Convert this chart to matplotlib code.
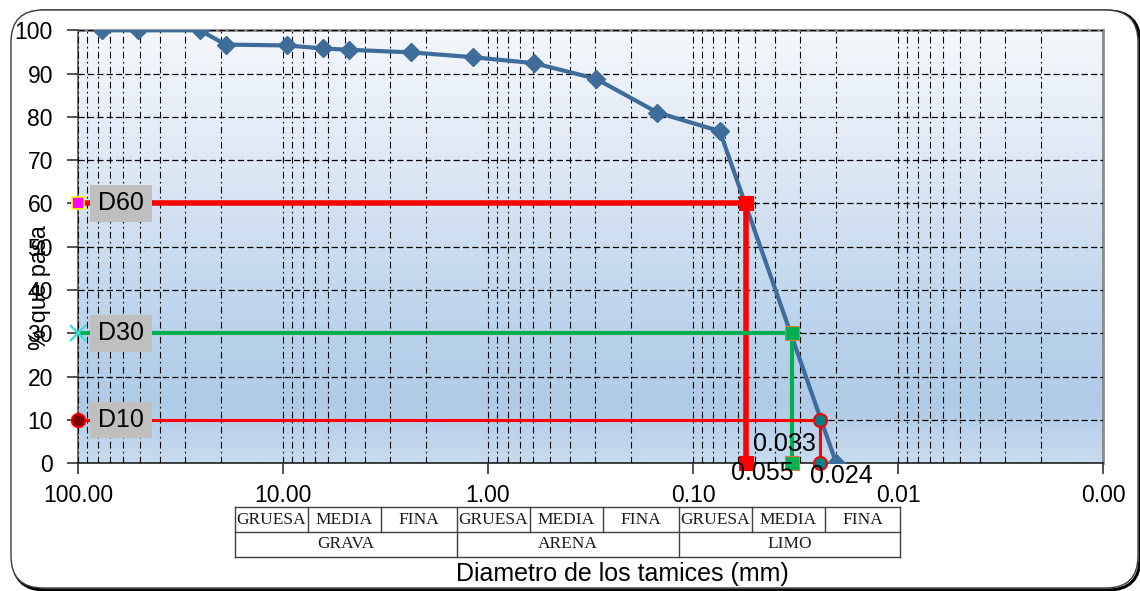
import matplotlib
matplotlib.use('Agg')
import matplotlib.pyplot as plt
import matplotlib.transforms as mtransforms
import numpy as np
from matplotlib.ticker import LogLocator, FuncFormatter, NullFormatter, MultipleLocator
from matplotlib.colors import LinearSegmentedColormap
from matplotlib.patches import FancyBboxPatch, Rectangle
from matplotlib.lines import Line2D

plt.rcParams['font.family'] = ['Liberation Sans', 'DejaVu Sans']

# curva granulometrica
sieve_mm = [76.2, 50.8, 25.4, 19.05, 9.525, 6.35, 4.76, 2.38, 1.19, 0.595, 0.297, 0.149, 0.074, 0.020]
pct_pass = [100, 100, 100, 96.7, 96.5, 95.8, 95.5, 94.9, 93.8, 92.4, 88.8, 81.0, 76.7, 0]

# diametros efectivos
d_names = ['D60', 'D30', 'D10']
d_pct = [60, 30, 10]
d_mm = [0.055, 0.033, 0.024]
d_text = ['0.055', '0.033', '0.024']

# clasificacion bajo el eje
grain_groups = ['GRAVA', 'ARENA', 'LIMO']
grain_sub = ['GRUESA', 'MEDIA', 'FINA']

W, H = 1140, 591
fig = plt.figure(figsize=(W / 100, H / 100), dpi=100)
inch = fig.dpi_scale_trans

# marco redondeado con sombra
shadow = FancyBboxPatch((13 / 100, (H - 590) / 100), 1127 / 100, 579 / 100,
                        boxstyle='round,pad=0,rounding_size=0.32', transform=inch,
                        fc='none', ec='black', lw=2.2, zorder=-3)
frame = FancyBboxPatch((11 / 100, (H - 588) / 100), 1127 / 100, 578 / 100,
                       boxstyle='round,pad=0,rounding_size=0.32', transform=inch,
                       fc='white', ec='#3a3a3a', lw=1.0, zorder=-2)
fig.add_artist(shadow)
fig.add_artist(frame)

ax = fig.add_axes([78 / W, 1 - 463.3 / H, 1025 / W, 433 / H])

# fondo degradado
stops = [(0.0, '#f5f8fc'), (0.35, '#dae6f4'), (0.65, '#bdd5ed'), (0.87, '#afcbe7'), (1.0, '#c8dcf0')]
cmap = LinearSegmentedColormap.from_list('fondo', stops)
grad = np.linspace(0, 1, 256).reshape(-1, 1)
ax.imshow(grad, cmap=cmap, aspect='auto', extent=[0, 1, 0, 1],
          transform=ax.transAxes, zorder=0, interpolation='bilinear')

ax.set_xscale('log')
ax.set_xlim(100, 0.001)
ax.set_ylim(0, 100)

ax.xaxis.set_major_locator(LogLocator(base=10, numticks=12))
ax.xaxis.set_minor_locator(LogLocator(base=10, subs=np.arange(2, 10), numticks=12))
ax.xaxis.set_major_formatter(FuncFormatter(lambda v, _: f'{v:.2f}'))
ax.xaxis.set_minor_formatter(NullFormatter())
ax.yaxis.set_major_locator(MultipleLocator(10))

ax.tick_params(axis='both', which='major', direction='out', length=8, width=1.2,
               labelsize=16.5, color='#333333')
ax.tick_params(axis='x', which='major', pad=7)
ax.tick_params(axis='y', which='major', pad=10)
ax.tick_params(axis='x', which='minor', length=0)

ax.grid(which='both', axis='x', color='black', lw=0.8, ls=(0, (6, 3, 1.5, 3)))
ax.grid(which='major', axis='y', color='black', lw=0.9, ls=(0, (5, 2.5)))
ax.set_axisbelow(False)
for gl in ax.get_xgridlines() + ax.get_ygridlines():
    gl.set_zorder(1)

for side in ['top', 'right']:
    ax.spines[side].set_color('#8c8c8c')
    ax.spines[side].set_linewidth(2)
ax.spines['left'].set_color('#555555')
ax.spines['left'].set_linewidth(1.2)
ax.spines['bottom'].set_color('#222222')
ax.spines['bottom'].set_linewidth(1.2)

ax.plot(sieve_mm, pct_pass, color='#3e6d9c', lw=3.0, marker='D', ms=9.5,
        mfc='#3e6d9c', mec='#3e6d9c', zorder=3)

# lineas D60, D30, D10
line_col = ['#ff0000', '#00b050', '#ff0000']
line_w = [4.0, 3.0, 2.2]
left_mk = [dict(marker='s', ms=9, mfc='#ff00ff', mec='#ffff00', mew=1.2),
           dict(marker='x', ms=11, mfc='none', mec='#33dddd', mew=1.6),
           dict(marker='o', ms=10, mfc='#800000', mec='#ff0000', mew=1.2)]
end_mk = [dict(marker='s', ms=10, mfc='#ff0000', mec='#ff0000', mew=0.8),
          dict(marker='s', ms=10, mfc='#00b050', mec='#e07b39', mew=0.8),
          dict(marker='o', ms=9.5, mfc='#008080', mec='#ff0000', mew=1.4)]
text_off = [(16, -10), (-7, 19), (21, -13)]

blend = mtransforms.blended_transform_factory(ax.transAxes, ax.transData)
for i in range(3):
    xd, yd = d_mm[i], d_pct[i]
    ax.plot([100, xd], [yd, yd], color=line_col[i], lw=line_w[i], zorder=4, solid_capstyle='butt')
    ax.plot([xd, xd], [yd, 0], color=line_col[i], lw=line_w[i], zorder=4, solid_capstyle='butt')
    ax.plot([100], [yd], ls='none', zorder=6, clip_on=False, **left_mk[i])
    ax.plot([xd, xd], [yd, 0], ls='none', zorder=6, clip_on=False, **end_mk[i])
    ax.add_patch(Rectangle((12 / 1025, yd - 4.25), 62 / 1025, 8.5, transform=blend,
                           fc='#bfbfbf', ec='none', zorder=5))
    ax.text(43 / 1025, yd, d_names[i], transform=blend, ha='center', va='center',
            fontsize=18, zorder=7)
    ax.annotate(d_text[i], xy=(xd, 0), xytext=text_off[i], textcoords='offset pixels',
                ha='center', va='center', fontsize=18, zorder=7, annotation_clip=False)

fig.text(40 / W, 1 - 288 / H, '% que pasa', rotation=90, ha='center', va='center', fontsize=17)
fig.text(622 / W, 1 - 574 / H, 'Diametro de los tamices (mm)', ha='center', va='center', fontsize=18)

# tabla de clasificacion
tx0, tx1 = 235, 900
ty0, ty1, ty2 = 507, 532, 557
group_edges = [235, 457, 679, 900]
sub_edges = [[235, 308, 381, 457], [457, 530, 603, 679], [679, 752, 825, 900]]
tcol = '#404040'


def px_line(xs, ys, lw=1.0):
    fig.add_artist(Line2D([x / 100 for x in xs], [(H - y) / 100 for y in ys],
                          transform=inch, color=tcol, lw=lw))


px_line([tx0, tx1], [ty0, ty0])
px_line([tx0, tx1], [ty1, ty1])
px_line([tx0, tx1], [ty2, ty2])
for x in group_edges:
    px_line([x, x], [ty0, ty2])
for g, edges in enumerate(sub_edges):
    for x in edges[1:-1]:
        px_line([x, x], [ty0, ty1])
    for k in range(3):
        cx = (edges[k] + edges[k + 1]) / 2
        fig.text(cx / 100, (H - (ty0 + ty1) / 2) / 100, grain_sub[k], transform=inch,
                 ha='center', va='center', fontsize=12.5, family='Liberation Serif', color='#1a1a1a')
    cx = (group_edges[g] + group_edges[g + 1]) / 2
    fig.text(cx / 100, (H - (ty1 + ty2) / 2) / 100, grain_groups[g], transform=inch,
             ha='center', va='center', fontsize=12.5, family='Liberation Serif', color='#1a1a1a')

fig.savefig('out.png', dpi=100, facecolor='white')
